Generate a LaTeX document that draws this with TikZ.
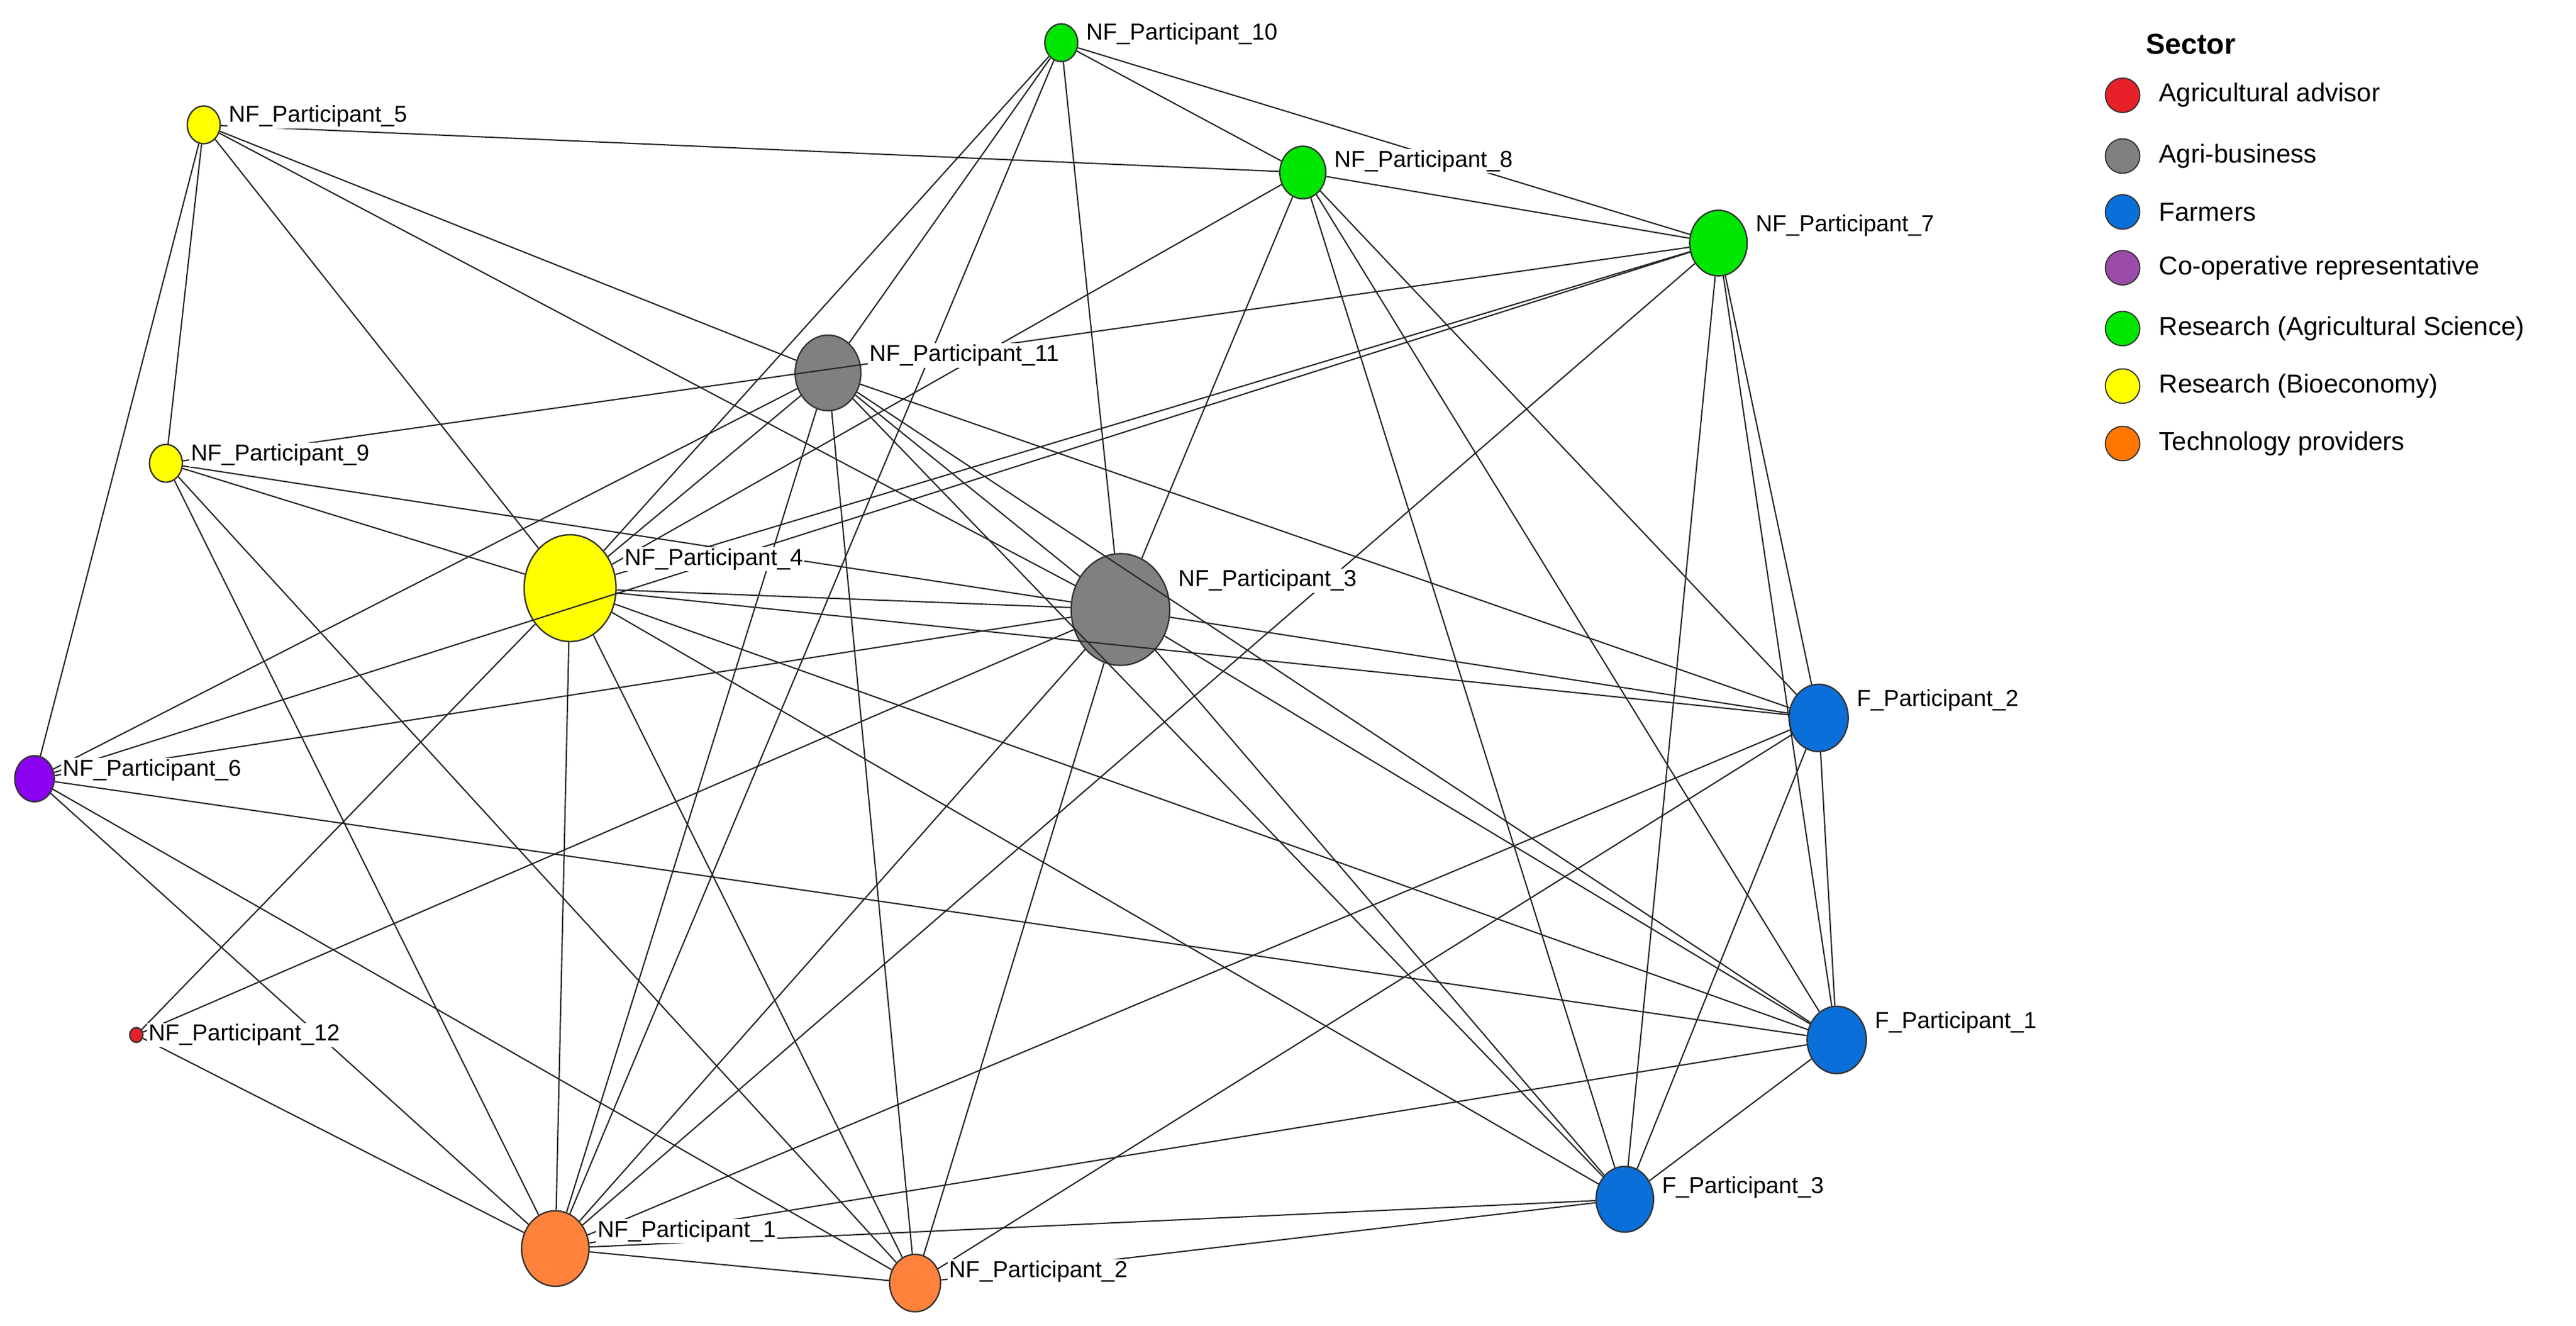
\documentclass[tikz,border=0pt]{standalone}
\usepackage{fontspec}
\setmainfont{Liberation Sans}
\usepackage{xcolor}
\usepackage{tikz}
\usetikzlibrary{shapes.geometric}
\usetikzlibrary{calc}

\definecolor{advisor}{HTML}{E8202A}
\definecolor{agri}{HTML}{808080}
\definecolor{farmer}{HTML}{0A6FD8}
\definecolor{coop}{HTML}{8A00F0}
\definecolor{coopleg}{HTML}{9B4BA8}
\definecolor{sci}{HTML}{00E600}
\definecolor{bio}{HTML}{FFFF00}
\definecolor{tech}{HTML}{FF823C}
\definecolor{techleg}{HTML}{FF7700}

\begin{document}
\begin{tikzpicture}[x=0.02cm, y=-0.02cm,
    vert/.style={ellipse, draw=black!80, line width=0.5pt, inner sep=0pt},
    edge/.style={draw=black!85, line width=0.45pt},
    lbl/.style={fill=white, inner sep=0.5pt, font=\fontsize{8}{9}\selectfont, anchor=west},
    key/.style={circle, draw=black!80, minimum size=0.42cm, inner sep=0pt},
    keytext/.style={font=\fontsize{9}{10}\selectfont, anchor=west}
]
\useasboundingbox (0,0) rectangle (1568,807);

\node[vert, fill=sci, minimum width=0.40cm, minimum height=0.46cm] (p10) at (646,26) {};
\node[vert, fill=bio, minimum width=0.40cm, minimum height=0.46cm] (p5) at (124,76) {};
\node[vert, fill=sci, minimum width=0.56cm, minimum height=0.64cm] (p8) at (793,105) {};
\node[vert, fill=sci, minimum width=0.70cm, minimum height=0.80cm] (p7) at (1046,148) {};
\node[vert, fill=agri, minimum width=0.80cm, minimum height=0.92cm] (p11) at (504,227) {};
\node[vert, fill=bio, minimum width=0.40cm, minimum height=0.46cm] (p9) at (101,282) {};
\node[vert, fill=bio, minimum width=1.12cm, minimum height=1.30cm] (p4) at (347,358) {};
\node[vert, fill=agri, minimum width=1.20cm, minimum height=1.36cm] (p3) at (682,371) {};
\node[vert, fill=farmer, minimum width=0.72cm, minimum height=0.82cm] (f2) at (1107,437) {};
\node[vert, fill=coop, minimum width=0.48cm, minimum height=0.56cm] (p6) at (21,474) {};
\node[vert, fill=advisor, minimum width=0.16cm, minimum height=0.18cm] (p12) at (83,630) {};
\node[vert, fill=farmer, minimum width=0.72cm, minimum height=0.82cm] (f1) at (1118,633) {};
\node[vert, fill=farmer, minimum width=0.70cm, minimum height=0.80cm] (f3) at (989,730) {};
\node[vert, fill=tech, minimum width=0.82cm, minimum height=0.92cm] (n1) at (338,760) {};
\node[vert, fill=tech, minimum width=0.62cm, minimum height=0.70cm] (n2) at (557,781) {};

% ties between participants
\foreach \a/\b in {p10/p8, p10/p7, p10/p3, p10/p4, p10/n1, p10/p11,
    p5/p8, p5/p11, p5/p3, p5/p4, p5/p9, p5/p6,
    p8/p7, p8/p4, p8/p3, p8/f3, p8/f1, p8/f2,
    p7/p9, p7/p4, p7/p6, p7/n1, p7/f2, p7/f1, p7/f3,
    p11/p4, p11/p3, p11/f2, p11/f1, p11/f3, p11/n1, p11/n2, p11/p6,
    p3/p9, p3/p4, p3/p6, p3/p12, p3/f2, p3/f1, p3/f3, p3/n1, p3/n2,
    p4/p9, p4/p12, p4/f2, p4/f1, p4/f3, p4/n1, p4/n2,
    p6/f1, p6/n1, p6/n2, p12/n1, p9/n1, p9/n2,
    f2/f1, f2/f3, f2/n1, f2/n2, f1/f3, f1/n1, f3/n1, f3/n2, n1/n2}
    \draw[edge] (\a) -- (\b);

\node[lbl] at ([xshift=2pt,yshift=3pt]p10.east) {NF\_Participant\_10};
\node[lbl] at ([xshift=2pt,yshift=3pt]p5.east) {NF\_Participant\_5};
\node[lbl] at ([xshift=2pt,yshift=4pt]p8.east) {NF\_Participant\_8};
\node[lbl] at ([xshift=2pt,yshift=6pt]p7.east) {NF\_Participant\_7};
\node[lbl] at ([xshift=2pt,yshift=6pt]p11.east) {NF\_Participant\_11};
\node[lbl] at ([xshift=2pt,yshift=3pt]p9.east) {NF\_Participant\_9};
\node[lbl] at ([xshift=2pt,yshift=10pt]p4.east) {NF\_Participant\_4};
\node[lbl] at ([xshift=2pt,yshift=10pt]p3.east) {NF\_Participant\_3};
\node[lbl] at ([xshift=2pt,yshift=6pt]f2.east) {F\_Participant\_2};
\node[lbl] at ([xshift=2pt,yshift=3pt]p6.east) {NF\_Participant\_6};
\node[lbl] at ([xshift=1pt]p12.east) {NF\_Participant\_12};
\node[lbl] at ([xshift=2pt,yshift=6pt]f1.east) {F\_Participant\_1};
\node[lbl] at ([xshift=2pt,yshift=4pt]f3.east) {F\_Participant\_3};
\node[lbl] at ([xshift=2pt,yshift=6pt]n1.east) {NF\_Participant\_1};
\node[lbl] at ([xshift=2pt,yshift=4pt]n2.east) {NF\_Participant\_2};

% legend
\node[keytext, font=\fontsize{10}{11}\selectfont\bfseries] (sector) at (1300,27) {Sector};
\node[key, fill=advisor] (k1) at (1292,58) {};
\node[key, fill=agri] (k2) at (1292,95) {};
\node[key, fill=farmer] (k3) at (1292,129) {};
\node[key, fill=coopleg] (k4) at (1292,163) {};
\node[key, fill=sci] (k5) at (1292,200) {};
\node[key, fill=bio] (k6) at (1292,235) {};
\node[key, fill=techleg] (k7) at (1292,270) {};
\node[keytext] at ([xshift=3pt]k1.east) {Agricultural advisor};
\node[keytext] at ([xshift=3pt]k2.east) {Agri-business};
\node[keytext] at ([xshift=3pt]k3.east) {Farmers};
\node[keytext] at ([xshift=3pt]k4.east) {Co-operative representative};
\node[keytext] at ([xshift=3pt]k5.east) {Research (Agricultural Science)};
\node[keytext] at ([xshift=3pt]k6.east) {Research (Bioeconomy)};
\node[keytext] at ([xshift=3pt]k7.east) {Technology providers};
\end{tikzpicture}
\end{document}
